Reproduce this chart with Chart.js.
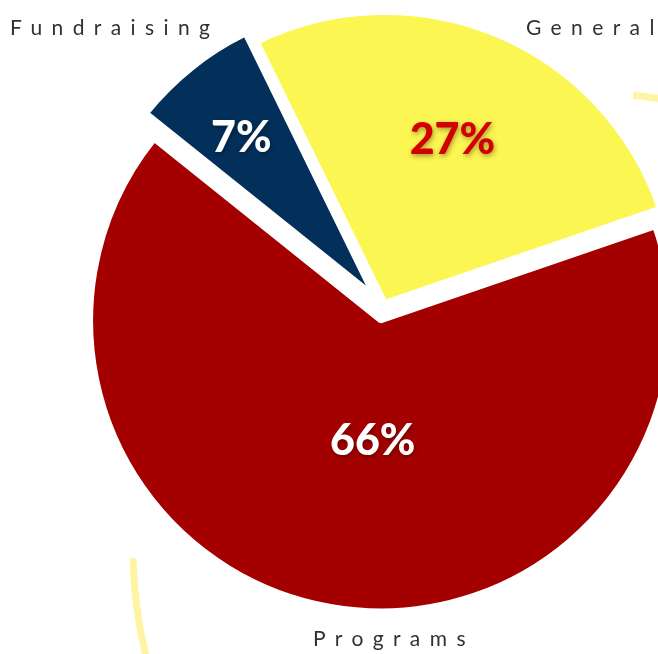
<!DOCTYPE html>
<html>
<head>
<meta charset="utf-8">
<script src="https://cdn.jsdelivr.net/npm/chart.js@4.4.0/dist/chart.umd.min.js"></script>
<style>
  html, body { margin: 0; padding: 0; background: #fff; overflow: hidden; }
  #wrap { position: relative; width: 658px; height: 654px; }
  #wrap canvas { position: absolute; left: 0; top: 0; }
  .cat {
    position: absolute;
    font-family: Lato, "Noto Sans", sans-serif;
    font-size: 21px;
    line-height: 21px;
    letter-spacing: 9.4px;
    color: #333030;
    white-space: nowrap;
  }
</style>
</head>
<body>
<div id="wrap"><canvas id="pie" width="658" height="654"></canvas></div>
<script>
// data
const categories = ['Fundraising', 'General', 'Programs'];
const shares = [7, 27, 66];

// styles
const sliceColors = ['#03305b', '#fcf652', '#a50000'];
const pctColors = ['#ffffff', '#d30000', '#ffffff'];
// how far each slice is pulled out of the centre (px)
const explode = [16, 5, 14];
// where each % label sits: fraction of radius + small angle nudge (deg)
const pctPlace = [{ r: 0.707, da: -1.3 }, { r: 0.608, da: 0 }, { r: 0.412, da: -6.1 }];
// category captions around the pie
const catPlace = [{ left: 10, top: 16 }, { left: 526, top: 16 }, { left: 313, top: 627 }];

const wrap = document.getElementById('wrap');
categories.forEach((name, i) => {
  const d = document.createElement('div');
  d.className = 'cat';
  d.textContent = name;
  d.style.left = catPlace[i].left + 'px';
  d.style.top = catPlace[i].top + 'px';
  wrap.appendChild(d);
});

const deg = a => a * Math.PI / 180;

// push each slice outwards along its middle angle
const explodeSlices = {
  id: 'explodeSlices',
  afterUpdate(chart) {
    const meta = chart.getDatasetMeta(0);
    meta.data.forEach((arc, i) => {
      const mid = (arc.startAngle + arc.endAngle) / 2;
      arc.x += Math.cos(mid) * explode[i];
      arc.y += Math.sin(mid) * explode[i];
    });
  }
};

// faint yellow arc pieces behind the pie
const backRing = {
  id: 'backRing',
  beforeDatasetsDraw(chart) {
    const ctx = chart.ctx;
    const area = chart.chartArea;
    const cx = (area.left + area.right) / 2 + 205;
    const cy = (area.top + area.bottom) / 2 + 241;
    ctx.save();
    ctx.strokeStyle = '#fff4a4';
    ctx.lineWidth = 7;
    ctx.lineCap = 'butt';
    ctx.beginPath();
    ctx.arc(cx, cy, 455, deg(160), deg(178.7));
    ctx.stroke();
    ctx.beginPath();
    ctx.arc(cx, cy, 455, deg(-84.3), deg(-70));
    ctx.stroke();
    ctx.restore();
  }
};

// percentage labels inside slices
const pctLabels = {
  id: 'pctLabels',
  afterDatasetsDraw(chart) {
    const ctx = chart.ctx;
    const meta = chart.getDatasetMeta(0);
    meta.data.forEach((arc, i) => {
      const a = (arc.startAngle + arc.endAngle) / 2 + deg(pctPlace[i].da);
      const r = arc.outerRadius * pctPlace[i].r;
      const x = arc.x + Math.cos(a) * r;
      const y = arc.y + Math.sin(a) * r;
      ctx.save();
      ctx.font = '900 43px Lato, "Noto Sans", sans-serif';
      ctx.textAlign = 'center';
      ctx.textBaseline = 'alphabetic';
      ctx.shadowColor = i === 1 ? 'rgba(60,20,0,0.45)' : 'rgba(0,0,0,0.35)';
      ctx.shadowBlur = 5;
      ctx.shadowOffsetX = 1;
      ctx.shadowOffsetY = 2;
      ctx.fillStyle = pctColors[i];
      ctx.fillText(shares[i] + '%', x, y + 15);
      ctx.restore();
    });
  }
};

new Chart(document.getElementById('pie').getContext('2d'), {
  type: 'pie',
  data: {
    labels: categories,
    datasets: [{
      data: shares,
      backgroundColor: sliceColors,
      borderColor: '#ffffff',
      borderWidth: 5,
      clip: false
    }]
  },
  options: {
    responsive: false,
    animation: false,
    events: [],
    rotation: -51.3,
    radius: 290,
    layout: { padding: { left: 108, right: 0, top: 0, bottom: 40 } },
    plugins: {
      legend: { display: false },
      tooltip: { enabled: false },
      title: { display: false }
    }
  },
  plugins: [explodeSlices, backRing, pctLabels]
});
</script>
</body>
</html>
